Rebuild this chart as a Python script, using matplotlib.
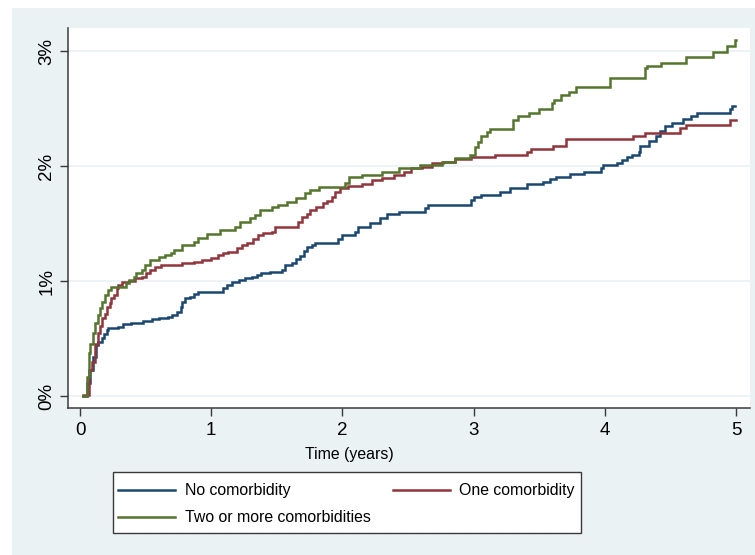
import matplotlib
matplotlib.use("Agg")
import matplotlib.pyplot as plt
from matplotlib import font_manager
from matplotlib.font_manager import FontProperties
from matplotlib.patches import Rectangle
from matplotlib.lines import Line2D

# ---------------- data (cumulative incidence, %) ----------------
t_none = [0.025, 0.053, 0.08, 0.10, 0.12, 0.14, 0.165, 0.186, 0.203, 0.216, 0.29, 0.33, 0.39, 0.48, 0.55,
          0.60, 0.67, 0.70, 0.74, 0.77, 0.78, 0.80, 0.84, 0.87, 0.90, 1.09, 1.12, 1.16, 1.21, 1.26, 1.31,
          1.35, 1.38, 1.45, 1.54, 1.562, 1.613, 1.65, 1.68, 1.71, 1.733, 1.766, 1.791, 1.97, 2.00, 2.096,
          2.12, 2.21, 2.29, 2.34, 2.43, 2.63, 2.65, 2.978, 3.00, 3.06, 3.20, 3.277, 3.405, 3.53, 3.58, 3.63,
          3.735, 3.84, 3.97, 3.99, 4.09, 4.13, 4.17, 4.21, 4.26, 4.27, 4.34, 4.39, 4.42, 4.46, 4.51, 4.60,
          4.66, 4.70, 4.954, 4.97, 4.99]
v_none = [0.0, 0.115, 0.23, 0.346, 0.448, 0.477, 0.506, 0.543, 0.578, 0.593, 0.607, 0.63, 0.64, 0.66, 0.67,
          0.68, 0.69, 0.709, 0.737, 0.78, 0.825, 0.854, 0.868, 0.89, 0.91, 0.94, 0.97, 0.998, 1.01, 1.028, 1.04,
          1.057, 1.07, 1.085, 1.10, 1.143, 1.163, 1.193, 1.222, 1.265, 1.30, 1.315, 1.332, 1.367, 1.404, 1.433,
          1.477, 1.506, 1.55, 1.587, 1.607, 1.636, 1.663, 1.71, 1.737, 1.75, 1.78, 1.81, 1.848, 1.868, 1.889, 1.911,
          1.932, 1.955, 1.984, 2.013, 2.033, 2.057, 2.085, 2.10, 2.129, 2.178, 2.224, 2.265, 2.311, 2.352, 2.381, 2.41,
          2.439, 2.468, 2.497, 2.526, 2.526]

t_one = [0.025, 0.066, 0.09, 0.114, 0.135, 0.152, 0.165, 0.19, 0.203, 0.229, 0.24, 0.262, 0.28, 0.29, 0.317,
         0.37, 0.42, 0.47, 0.505, 0.53, 0.57, 0.62, 0.775, 0.866, 0.93, 1.00, 1.054, 1.09, 1.13, 1.194, 1.232,
         1.27, 1.321, 1.36, 1.397, 1.46, 1.486, 1.664, 1.69, 1.728, 1.753, 1.80, 1.855, 1.88, 1.918, 1.943, 1.98,
         2.04, 2.148, 2.225, 2.30, 2.39, 2.47, 2.52, 2.61, 2.68, 2.77, 2.86, 2.98, 3.163, 3.405, 3.44, 3.608,
         3.705, 4.217, 4.31, 4.57, 4.62, 4.954, 5.0]
v_one = [0.01, 0.23, 0.30, 0.46, 0.55, 0.61, 0.68, 0.72, 0.78, 0.81, 0.854, 0.883, 0.94, 0.97, 0.998,
         1.007, 1.028, 1.04, 1.07, 1.10, 1.123, 1.143, 1.157, 1.17, 1.187, 1.20, 1.23, 1.25, 1.26, 1.289, 1.317,
         1.332, 1.367, 1.404, 1.419, 1.433, 1.471, 1.52, 1.56, 1.59, 1.622, 1.65, 1.68, 1.70, 1.737, 1.78, 1.81,
         1.83, 1.848, 1.883, 1.897, 1.926, 1.955, 1.984, 1.998, 2.028, 2.042, 2.062, 2.08, 2.10, 2.129, 2.152, 2.178,
         2.236, 2.265, 2.294, 2.332, 2.36, 2.40, 2.40]

t_two = [0.025, 0.053, 0.07, 0.08, 0.096, 0.114, 0.135, 0.152, 0.17, 0.19, 0.21, 0.24, 0.35, 0.37, 0.41,
         0.43, 0.47, 0.495, 0.53, 0.60, 0.65, 0.69, 0.72, 0.775, 0.866, 0.90, 0.97, 1.07, 1.18, 1.22, 1.295,
         1.334, 1.372, 1.46, 1.51, 1.575, 1.65, 1.715, 1.753, 1.82, 2.02, 2.05, 2.15, 2.30, 2.43, 2.59, 2.76,
         2.86, 2.97, 3.01, 3.035, 3.06, 3.10, 3.125, 3.30, 3.34, 3.42, 3.50, 3.60, 3.61, 3.67, 3.73, 3.78,
         4.04, 4.31, 4.32, 4.43, 4.62, 4.827, 4.93, 4.99, 5.0]
v_two = [0.0, 0.17, 0.376, 0.46, 0.55, 0.637, 0.71, 0.767, 0.825, 0.883, 0.93, 0.955, 0.984, 1.013, 1.04,
         1.077, 1.10, 1.143, 1.187, 1.216, 1.23, 1.25, 1.274, 1.317, 1.346, 1.376, 1.413, 1.448, 1.477, 1.52, 1.55,
         1.578, 1.622, 1.645, 1.665, 1.694, 1.723, 1.767, 1.796, 1.825, 1.86, 1.906, 1.926, 1.955, 1.984, 2.013, 2.042,
         2.07, 2.10, 2.172, 2.216, 2.265, 2.30, 2.33, 2.404, 2.439, 2.468, 2.497, 2.55, 2.578, 2.62, 2.65, 2.689,
         2.767, 2.854, 2.87, 2.90, 2.95, 2.998, 3.048, 3.10, 3.10]

series_labels = ["No comorbidity", "One comorbidity", "Two or more comorbidities"]
series_colors = ["#1A476F", "#90353B", "#55752F"]
x_ticks = [0, 1, 2, 3, 4, 5]
y_ticks = [0, 1, 2, 3]
y_ticklabels = ["0%", "1%", "2%", "3%"]
x_label = "Time (years)"

# ---------------- fonts ----------------
try:
    font_manager.findfont(FontProperties(family="Liberation Sans Narrow"), fallback_to_default=False)
    FAM = ["Liberation Sans Narrow", "DejaVu Sans"]
    TICK_FS, LAB_FS = 15, 13.5
except Exception:
    FAM = ["Liberation Sans", "DejaVu Sans"]
    TICK_FS, LAB_FS = 13.5, 11.4
plt.rcParams["font.family"] = FAM

W, H = 755, 555
BG = "#EAF2F3"
AXC = "#3a3a3a"

fig = plt.figure(figsize=(W / 100, H / 100), dpi=100)
fig.patch.set_facecolor("white")

def fx(px):
    return px / W

def fy(py):
    return 1 - py / H

# outer graph region
fig.add_artist(Rectangle((fx(12), 0), 1 - fx(12), fy(8), transform=fig.transFigure,
                         facecolor=BG, edgecolor="none", zorder=0))

ax = fig.add_axes([fx(68), fy(408), fx(750) - fx(68), fy(28) - fy(408)])
ax.set_facecolor("white")
ax.set_zorder(1)

data = [(t_none, v_none), (t_one, v_one), (t_two, v_two)]
for (tt, vv), c in zip(data, series_colors):
    ax.step(tt, vv, where="post", color=c, lw=1.8, solid_joinstyle="miter", zorder=3)

ax.set_xlim(-0.0915, 5.107)
ax.set_ylim(-0.1, 3.204)
ax.set_xticks(x_ticks)
ax.set_xticklabels([str(x) for x in x_ticks], fontsize=TICK_FS, color="black")
ax.set_yticks(y_ticks)
ax.set_yticklabels(y_ticklabels, fontsize=TICK_FS, rotation=90, va="center", color="black")
ax.tick_params(axis="both", length=6, width=1, color=AXC)
ax.tick_params(axis="x", pad=4)
ax.tick_params(axis="y", pad=3)
for g in y_ticks:
    ax.axhline(g, color=BG, lw=1.2, zorder=1)
for s in ["top", "right"]:
    ax.spines[s].set_visible(False)
for s in ["left", "bottom"]:
    ax.spines[s].set_color(AXC)
    ax.spines[s].set_linewidth(1.1)

fig.text(fx(349), fy(455), x_label, ha="center", va="center", fontsize=LAB_FS, color="black")

# legend (manual, Stata style)
lx0, ly0, lx1, ly1 = 112.7, 471.7, 580.7, 532.7
fig.add_artist(Rectangle((fx(lx0), fy(ly1)), fx(lx1) - fx(lx0), fy(ly0) - fy(ly1),
                         transform=fig.transFigure, facecolor="white", edgecolor=AXC, lw=1.0, zorder=2))
entries = [(118, 175, 185, 490), (393, 450, 459, 490), (118, 175, 185, 517)]
for (a, b, tx, yy), lab, c in zip(entries, series_labels, series_colors):
    fig.add_artist(Line2D([fx(a), fx(b)], [fy(yy), fy(yy)], transform=fig.transFigure,
                          color=c, lw=1.8, zorder=3))
    fig.text(fx(tx), fy(yy), lab, ha="left", va="center", fontsize=LAB_FS, color="black", zorder=3)

fig.savefig("out.png", dpi=100, facecolor=fig.get_facecolor())
